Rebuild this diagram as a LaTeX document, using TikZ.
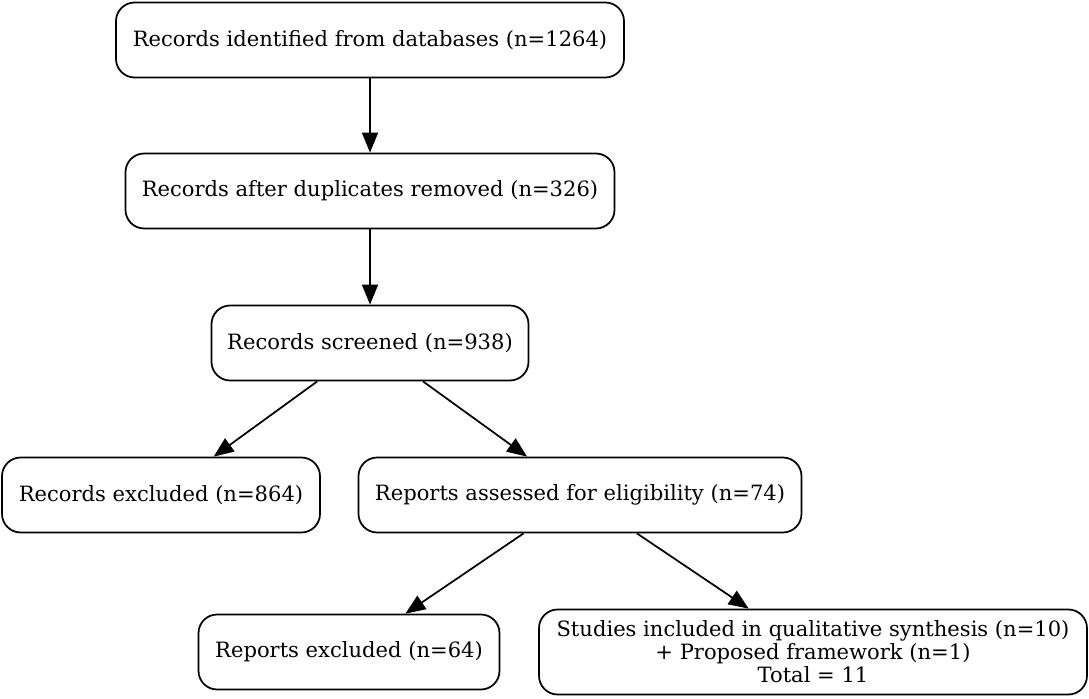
\documentclass[tikz,border=0pt]{standalone}
\usepackage{fontspec}
\setmainfont{DejaVu Serif}
\usetikzlibrary{arrows.meta}
\tikzset{
  box/.style={draw, rounded corners=14pt, line width=1.3pt, align=center,
    minimum height=56.25pt, font=\fontsize{15.8}{17.25}\selectfont},
  link/.style={line width=1.3pt, -{Triangle[length=15pt,width=12pt]}}
}
\begin{document}
\begin{tikzpicture}[x=0.75pt,y=-0.75pt]
    \useasboundingbox (0,0) rectangle (1089,699);
    % identification and screening
    \node[box, minimum width=381pt] (ident) at (370,40) {Records identified from databases (n=1264)};
    \node[box, minimum width=366.75pt] (dedup) at (370,191) {Records after duplicates removed (n=326)};
    \node[box, minimum width=237.75pt] (screen) at (370,343) {Records screened (n=938)};
    \node[box, minimum width=238.5pt] (recex) at (161,495) {Records excluded (n=864)};
    \node[box, minimum width=332.25pt] (assess) at (580,495) {Reports assessed for eligibility (n=74)};
    % eligibility and inclusion
    \node[box, minimum width=225.75pt] (repex) at (349,652) {Reports excluded (n=64)};
    \node[box, minimum width=411pt, minimum height=63.75pt] (incl) at (813,652)
        {Studies included in qualitative synthesis (n=10)\\+ Proposed framework (n=1)\\Total = 11};

    \draw[link] (ident) -- (dedup);
    \draw[link] (dedup) -- (screen);
    \draw[link] (screen) -- (recex);
    \draw[link] (screen) -- (assess);
    \draw[link] (assess) -- (repex);
    \draw[link] (assess) -- (incl);
\end{tikzpicture}
\end{document}
